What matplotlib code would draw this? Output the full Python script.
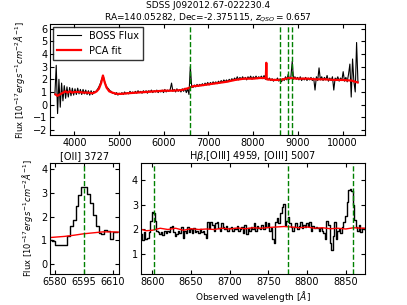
import numpy as np
import matplotlib
matplotlib.use("Agg")
import matplotlib.pyplot as plt

# ---------------------------
# Data
# ---------------------------
title_name = "SDSS J092012.67-022230.4"
title_info = "RA=140.05282, Dec=-2.375115, $z_{QSO}=0.657$"

# full BOSS spectrum, 30 A sampling starting at 3565 A
boss_start = 3565
boss_step = 30
boss_flux = [
    0.8, 3.1, -0.7, 2.0, -0.2, 1.7, 0.3, 1.5, 0.5, 1.4,
    0.6, 1.35, 0.7, 1.3, 0.75, 1.25, 0.8, 1.3, 0.85, 1.2,
    0.8, 1.2, 0.85, 1.15, 0.8, 1.1, 0.75, 1.1, 0.8, 1.05,
    0.95, 1.1, 1.25, 1.45, 1.7, 2.05, 2.3, 1.85, 1.55, 1.35,
    1.25, 1.1, 1.05, 0.9, 0.95, 0.8, 0.95, 0.75, 0.9, 0.8,
    0.95, 0.8, 1.0, 0.85, 0.95, 0.85, 1.05, 0.9, 1.0, 0.9,
    1.05, 0.9, 1.1, 0.95, 1.05, 0.9, 1.1, 0.95, 1.1, 0.9,
    1.1, 1.0, 1.15, 0.95, 1.1, 1.0, 1.15, 0.95, 1.1, 1.0,
    1.15, 0.95, 1.2, 1.0, 1.15, 1.05, 1.2, 1.7, 1.05, 1.2,
    1.0, 1.25, 1.05, 1.2, 1.0, 1.25, 1.05, 1.3, 0.95, 1.25,
    0.8, 3.0, 1.45, 1.35, 1.55, 1.4, 1.6, 1.45, 1.6, 1.5,
    1.65, 1.5, 1.7, 1.55, 1.75, 1.55, 1.75, 1.6, 1.8, 1.65,
    1.8, 1.65, 1.85, 1.7, 1.9, 1.75, 1.95, 1.8, 1.95, 1.8,
    2.0, 1.85, 2.05, 1.9, 2.1, 1.95, 2.2, 1.95, 2.15, 2.0,
    2.2, 2.0, 2.15, 1.95, 2.2, 2.05, 2.25, 2.0, 2.2, 2.05,
    2.25, 2.05, 2.2, 2.1, 2.25, 2.05, 2.3, 2.0, 2.1, 1.95,
    2.1, 1.9, 2.05, 1.85, 2.0, 1.9, 2.1, 1.85, 2.05, 1.8,
    2.05, 1.9, 2.2, 1.95, 2.4, 2.0, 2.2, 3.4, 2.0, 2.2,
    2.0, 2.15, 1.95, 2.2, 1.9, 2.1, 1.95, 2.15, 1.9, 2.1,
    1.95, 2.15, 1.9, 2.1, 1.15, 2.2, 1.9, 2.9, 1.95, 2.2,
    1.9, 2.15, 1.95, 2.3, 1.85, 2.1, 1.9, 2.2, 1.15, 2.1,
    1.95, 2.2, 1.85, 2.1, 1.9, 2.6, 1.85, 2.15, 1.8, 2.4,
    3.2, 0.6, 3.6, 1.8, 1.0, 4.9, 1.8,
]

pca_wave = [3580, 3620, 3650, 3700, 3750, 3800, 3850, 3900, 3950, 4000,
            4100, 4200, 4300, 4400, 4450, 4500, 4550, 4600, 4640, 4680,
            4720, 4780, 4850, 4950, 5050, 5200, 5400, 5600, 5800, 6000,
            6200, 6400, 6550, 6650, 6800, 7000, 7200, 7400, 7600, 7800,
            8000, 8150, 8285, 8295, 8305, 8450, 8600, 8800, 9000, 9200,
            9400, 9600, 9800, 10000, 10200, 10340]
pca_flux = [0.8, 0.7, 0.75, 0.85, 0.95, 1.05, 0.95, 1.05, 0.95, 1.0,
            1.0, 0.95, 0.95, 0.9, 0.95, 1.05, 1.25, 1.7, 2.3, 1.75,
            1.35, 1.05, 0.95, 0.85, 0.85, 0.9, 0.95, 1.0, 1.05, 1.1,
            1.1, 1.15, 1.3, 1.45, 1.5, 1.6, 1.7, 1.8, 1.95, 2.05,
            2.05, 2.1, 2.1, 3.3, 2.0, 1.95, 1.95, 2.1, 2.05, 2.05,
            2.0, 2.0, 1.95, 1.95, 1.9, 1.75]

# [OII] 3727 zoom
oii_wave = [6578.0, 6579.5, 6581.0, 6582.5, 6584.0, 6585.5, 6587.0, 6588.5,
            6590.0, 6591.5, 6593.0, 6594.5, 6596.0, 6597.5, 6599.0, 6600.5,
            6602.0, 6603.5, 6605.0, 6606.5, 6608.0, 6609.5, 6611.0, 6612.5]
oii_flux = [1.03, 0.97, 0.81, 0.81, 0.81, 0.81, 1.2, 1.62,
            1.85, 2.45, 2.9, 3.25, 3.25, 2.95, 2.55, 2.05,
            1.6, 1.3, 1.25, 1.45, 1.4, 1.05, 1.35, 1.35]
oii_pca_wave = [6577, 6585, 6590, 6595, 6600, 6605, 6610, 6613]
oii_pca_flux = [1.12, 1.17, 1.22, 1.28, 1.32, 1.36, 1.36, 1.35]

# Hbeta + [OIII] zoom, 2 A sampling from 8586 A
hb_start = 8586
hb_step = 2
hb_flux = [
    1.8, 1.57, 1.9, 1.62, 1.65, 1.9, 2.35, 2.7, 2.65, 2.35,
    1.95, 1.9, 1.8, 1.9, 1.78, 1.95, 1.85, 1.95, 1.9, 2.1,
    2.15, 1.9, 1.75, 1.8, 1.95, 1.85, 2.1, 1.65, 1.95, 1.85,
    2.1, 1.9, 2.0, 1.85, 2.05, 1.9, 1.95, 1.85, 2.0, 1.9,
    1.95, 1.8, 1.65, 2.3, 2.05, 2.3, 2.2, 1.95, 2.25, 2.3,
    2.05, 1.95, 2.25, 2.1, 2.0, 2.15, 1.95, 2.05, 2.1, 1.95,
    2.05, 2.0, 2.15, 1.95, 2.0, 2.1, 1.85, 2.2, 1.8, 2.05,
    1.95, 2.1, 2.0, 2.25, 1.95, 2.15, 2.05, 2.0, 2.2, 2.0,
    2.3, 2.1, 2.25, 1.95, 2.05, 1.6, 1.45, 2.3, 2.45, 2.25,
    2.65, 2.9, 3.05, 2.2, 2.35, 2.5, 2.25, 2.1, 1.95, 2.1,
    2.25, 2.0, 2.15, 2.3, 2.05, 2.2, 2.1, 2.25, 2.15, 2.3,
    1.95, 2.15, 2.05, 2.1, 2.05, 1.95, 2.05, 1.95, 1.85, 1.6,
    2.35, 2.2, 1.45, 1.15, 1.75, 2.3, 1.6, 1.95, 2.0, 1.85,
    2.1, 2.3, 2.55, 3.1, 3.6, 3.65, 3.55, 3.0, 2.4, 2.1,
    1.95, 2.2, 1.9, 2.05, 2.0,
]
hb_pca_wave = [8586, 8592, 8600, 8610, 8620, 8630, 8640, 8650, 8660, 8670,
               8680, 8690, 8700, 8710, 8720, 8730, 8740, 8750, 8760, 8770,
               8780, 8790, 8800, 8810, 8820, 8830, 8840, 8850, 8860, 8874]
hb_pca_flux = [2.0, 1.95, 1.97, 2.05, 2.0, 2.05, 1.97, 2.03, 2.0, 2.02,
               2.0, 2.05, 2.02, 2.06, 2.03, 2.07, 2.05, 2.08, 2.1, 2.12,
               2.1, 2.07, 2.1, 2.05, 2.07, 2.03, 2.05, 2.02, 2.07, 2.05]

line_marks = [6595, 8602, 8775, 8860]

# ---------------------------
# Plot
# ---------------------------
plt.rcParams["font.size"] = 7
plt.rcParams["xtick.direction"] = "in"
plt.rcParams["ytick.direction"] = "in"
plt.rcParams["xtick.top"] = True
plt.rcParams["ytick.right"] = True
plt.rcParams["xtick.major.size"] = 3
plt.rcParams["ytick.major.size"] = 3
plt.rcParams["axes.linewidth"] = 0.8

ylab = r"Flux [$10^{-17} erg\,s^{-1} cm^{-2} \AA^{-1}$]"

fig = plt.figure(figsize=(4.07, 3.05), dpi=100)
ax_top = fig.add_axes([0.123, 0.557, 0.774, 0.364])
ax_oii = fig.add_axes([0.123, 0.102, 0.170, 0.364])
ax_hb = fig.add_axes([0.346, 0.102, 0.551, 0.364])

boss_wave = boss_start + boss_step * np.arange(len(boss_flux))
ax_top.plot(boss_wave, boss_flux, color="k", lw=0.8, label="BOSS Flux")
ax_top.plot(pca_wave, pca_flux, color="r", lw=1.6, label="PCA fit")
for w in line_marks:
    ax_top.axvline(w, color="g", ls="--", lw=1)
ax_top.set_xlim(3457, 10505)
ax_top.set_ylim(-2.4, 6.35)
ax_top.set_xticks([4000, 5000, 6000, 7000, 8000, 9000, 10000])
ax_top.set_yticks(range(-2, 7))
ax_top.set_ylabel(ylab, fontsize=6)
ax_top.set_title(title_name + "\n" + title_info, fontsize=6.5, pad=2,
                 linespacing=1.15)
leg = ax_top.legend(loc="upper left", fontsize=7, fancybox=False,
                    handlelength=2.5, borderaxespad=0.3)
leg.get_frame().set_edgecolor("k")

ax_oii.plot(oii_wave, oii_flux, color="k", lw=1, drawstyle="steps-mid")
ax_oii.plot(oii_pca_wave, oii_pca_flux, color="r", lw=1)
ax_oii.axvline(line_marks[0], color="g", ls="--", lw=1)
ax_oii.set_xlim(6577.5, 6613.5)
ax_oii.set_ylim(-0.4, 4.25)
ax_oii.set_xticks([6580, 6595, 6610])
ax_oii.set_yticks([0, 1, 2, 3, 4])
ax_oii.set_ylabel(ylab, fontsize=6)
ax_oii.set_title("[OII] 3727", fontsize=7, pad=3)

hb_wave = hb_start + hb_step * np.arange(len(hb_flux))
ax_hb.plot(hb_wave, hb_flux, color="k", lw=1, drawstyle="steps-mid")
ax_hb.plot(hb_pca_wave, hb_pca_flux, color="r", lw=1)
for w in line_marks[1:]:
    ax_hb.axvline(w, color="g", ls="--", lw=1)
ax_hb.set_xlim(8585, 8875)
ax_hb.set_ylim(0.2, 4.7)
ax_hb.set_xticks([8600, 8650, 8700, 8750, 8800, 8850])
ax_hb.set_yticks([1, 2, 3, 4])
ax_hb.set_xlabel(r"Observed wavelength [$\AA$]", fontsize=6.5, labelpad=2)
ax_hb.set_title(r"H$\beta$,[OIII] 4959, [OIII] 5007", fontsize=7, pad=3)

for ax in (ax_top, ax_oii, ax_hb):
    ax.tick_params(labelsize=7, pad=2)

fig.savefig("out.png", dpi=100)
